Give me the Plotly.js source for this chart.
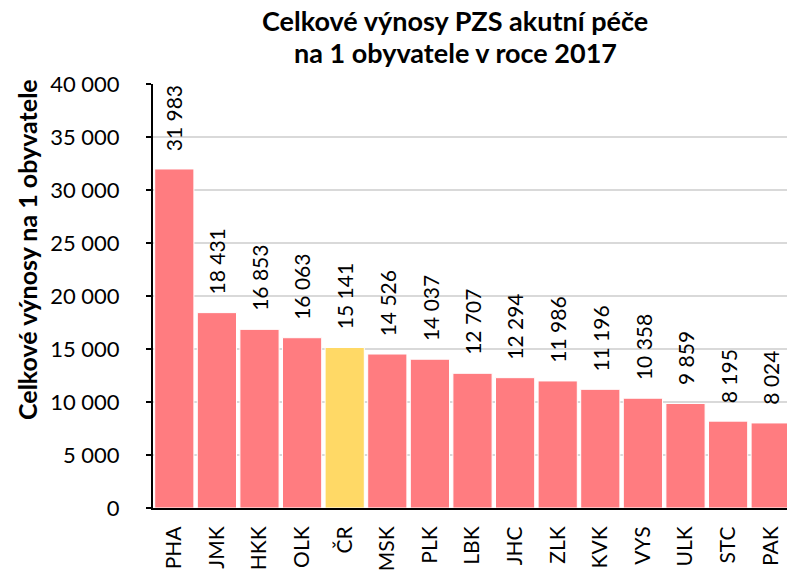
<!DOCTYPE html>
<html>
<head>
<meta charset="utf-8">
<script src="https://cdn.plot.ly/plotly-3.0.1.min.js"></script>
<style>
html,body{margin:0;padding:0;overflow:hidden;background:#fff;width:787px;height:573px;}
#chart{width:792px;height:573px;}
</style>
</head>
<body>
<div id="chart"></div>
<script>
const categories = ['PHA','JMK','HKK','OLK','ČR','MSK','PLK','LBK','JHC','ZLK','KVK','VYS','ULK','STC','PAK'];
const values = [31983,18431,16853,16063,15141,14526,14037,12707,12294,11986,11196,10358,9859,8195,8024];
const highlight = 'ČR';
const yTickVals = [0,5000,10000,15000,20000,25000,30000,35000,40000];
const titleLines = ['Celkové výnosy PZS akutní péče', 'na 1 obyvatele v roce 2017'];
const yTitle = 'Celkové výnosy na 1 obyvatele';

const pink = '#FF7C80', yellow = '#FFD966';
const fmt = v => String(v).replace(/\B(?=(\d{3})+(?!\d))/g, ' ');
const FONT = 'Lato, "Open Sans", sans-serif';

const trace = {
  type: 'bar',
  x: categories,
  y: values,
  marker: {color: categories.map(c => c === highlight ? yellow : pink), line: {color: '#fff', width: 1}},
  hoverinfo: 'none'
};

const annotations = categories.map((c, i) => ({
  x: c, y: values[i], xref: 'x', yref: 'y',
  text: fmt(values[i]), textangle: -90, showarrow: false,
  xanchor: 'center', yanchor: 'bottom', yshift: 16,
  font: {family: FONT, size: 21, color: '#000'}
}));

// chart title (two lines) and y-axis title
const titleX = (455 - 153) / 639;
annotations.push({
  xref: 'paper', yref: 'paper', x: titleX, y: 1, xanchor: 'center', yanchor: 'bottom',
  yshift: 45, showarrow: false, text: '<b>' + titleLines[0] + '</b>',
  font: {family: FONT, size: 27, color: '#000'}
});
annotations.push({
  xref: 'paper', yref: 'paper', x: titleX, y: 1, xanchor: 'center', yanchor: 'bottom',
  yshift: 13, showarrow: false, text: '<b>' + titleLines[1] + '</b>',
  font: {family: FONT, size: 27, color: '#000'}
});
annotations.push({
  xref: 'paper', yref: 'paper', x: 0, y: (508 - 250) / 424, xanchor: 'center', yanchor: 'middle',
  xshift: -126, textangle: -90, showarrow: false, text: '<b>' + yTitle + '</b>',
  font: {family: FONT, size: 25, color: '#000'}
});

const layout = {
  width: 792, height: 573,
  margin: {l: 153, r: 0, t: 84, b: 65},
  paper_bgcolor: '#fff', plot_bgcolor: '#fff',
  font: {family: FONT, color: '#000'},
  bargap: 0.08,
  showlegend: false,
  xaxis: {
    type: 'category', tickangle: -90, ticks: '', showgrid: false,
    showline: true, linecolor: '#000', linewidth: 2,
    tickfont: {family: FONT, size: 21, color: '#000'},
    ticklabelstandoff: 8
  },
  yaxis: {
    range: [0, 40000], tickvals: yTickVals, ticktext: yTickVals.map(fmt),
    showgrid: true, gridcolor: '#d9d9d9', gridwidth: 1.3,
    showline: true, linecolor: '#000', linewidth: 2,
    ticks: 'outside', ticklen: 5, tickcolor: '#000', tickwidth: 1.3,
    tickfont: {family: FONT, size: 22, color: '#000'},
    ticklabelstandoff: 22,
    zeroline: false
  },
  annotations: annotations
};

Plotly.newPlot('chart', [trace], layout, {displayModeBar: false, staticPlot: true});
</script>
</body>
</html>
